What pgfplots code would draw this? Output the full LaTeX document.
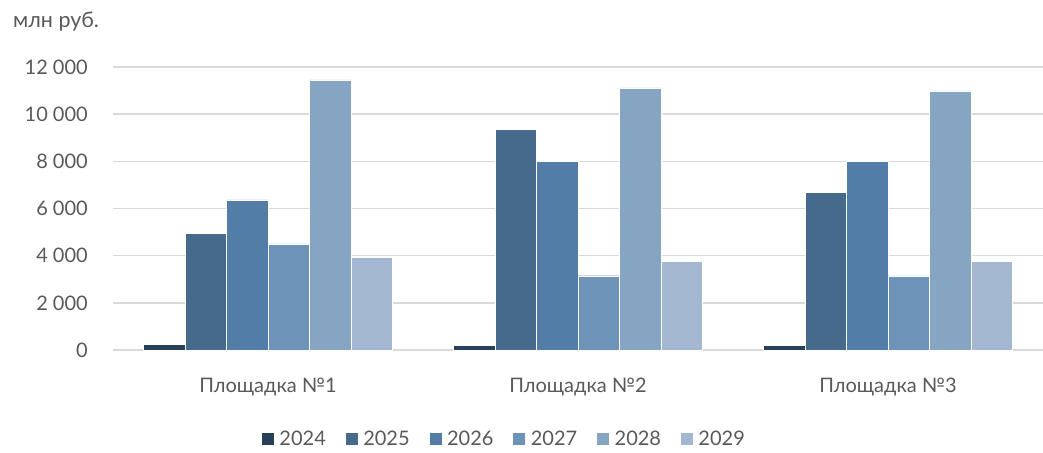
\documentclass[border=0pt]{standalone}
\usepackage{pgfplots}
\pgfplotsset{compat=1.18}
\usepackage{fontspec}
\setmainfont{Lato}

\definecolor{txt}{HTML}{595959}
\definecolor{gridc}{HTML}{D9D9D9}
\definecolor{c2024}{HTML}{264159}
\definecolor{c2025}{HTML}{456A8C}
\definecolor{c2026}{HTML}{517DA6}
\definecolor{c2027}{HTML}{6D94B8}
\definecolor{c2028}{HTML}{86A5C3}
\definecolor{c2029}{HTML}{A3B8D0}

\begin{document}
\begin{tikzpicture}[x=1pt,y=1pt]
\useasboundingbox (0,0) rectangle (1043,452);
\node[anchor=base west, inner sep=0pt, text=txt, font=\fontsize{21.5}{25}\selectfont] at (13,424) {млн руб.};
\begin{axis}[
  at={(113pt,102pt)}, anchor=south west,
  scale only axis, width=930pt, height=283pt,
  ybar=0pt, bar width=41.5pt,
  xmin=-0.5, xmax=2.5, ymin=0, ymax=12000,
  axis x line*=bottom, axis y line*=left,
  x axis line style={draw=none}, y axis line style={draw=none},
  xtick style={draw=none}, ytick style={draw=none},
  scaled y ticks=false,
  xtick={0,1,2},
  xticklabels={Площадка №1, Площадка №2, Площадка №3},
  ytick={0,2000,4000,6000,8000,10000,12000},
  yticklabels={0,2~000,4~000,6~000,8~000,10~000,12~000},
  ymajorgrids, xmajorgrids=false,
  grid style={draw=gridc, line width=1.6pt},
  yticklabel style={text=txt, font=\fontsize{20}{24}\selectfont, anchor=east, inner sep=0pt, xshift=-25pt},
  xticklabel style={text=txt, font=\fontsize{20}{24}\selectfont, anchor=north, inner sep=0pt, yshift=-24pt},
  legend columns=6,
  legend style={draw=none, fill=none, at={(0.4204,-0.315)}, anchor=center,
    font=\fontsize{20}{24}\selectfont, text=txt, inner sep=1pt,
    /tikz/every odd column/.append style={column sep=3pt},
    /tikz/every even column/.append style={column sep=17pt}},
  legend image code/.code={\fill[#1] (0pt,-6.5pt) rectangle (13pt,6.5pt);},
  every axis plot/.append style={draw=white, line width=0.4pt},
  clip=false,
]
\addplot[fill=c2024] coordinates {(0,250) (1,200) (2,200)};
\addplot[fill=c2025] coordinates {(0,4950) (1,9360) (2,6690)};
\addplot[fill=c2026] coordinates {(0,6370) (1,8000) (2,8000)};
\addplot[fill=c2027] coordinates {(0,4500) (1,3150) (2,3140)};
\addplot[fill=c2028] coordinates {(0,11450) (1,11120) (2,10990)};
\addplot[fill=c2029] coordinates {(0,3930) (1,3760) (2,3760)};
\legend{2024,2025,2026,2027,2028,2029}
\end{axis}
\end{tikzpicture}
\end{document}
